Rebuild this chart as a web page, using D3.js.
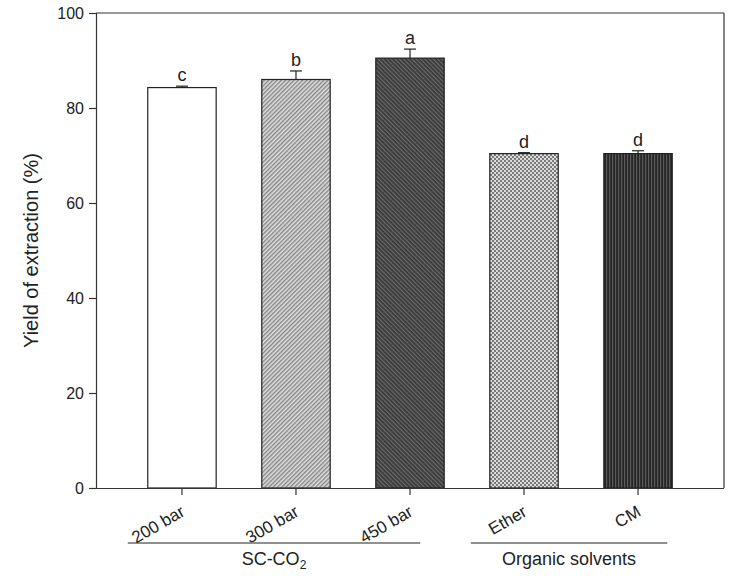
<!DOCTYPE html>
<html><head><meta charset="utf-8">
<script src="https://cdn.jsdelivr.net/npm/d3@7"></script>
<style>body{margin:0;background:#fff}svg{display:block}text{font-family:Arial,"Liberation Sans",sans-serif;fill:#222}</style>
</head><body>
<script>
const categories = ["200 bar","300 bar","450 bar","Ether","CM"];
const values = [84.3, 86.0, 90.5, 70.4, 70.4];
const errors = [0.3, 1.8, 1.9, 0.2, 0.6];
const letters = ["c","b","a","d","d"];
const yTicks = [0,20,40,60,80,100];
const groupNames = ["SC-CO", "Organic solvents"];
const groupFirst = [0, 3];
const groupLast = [2, 4];

const W = 742, H = 579;
const m = {l:96, r:18, t:13, b:91};
const svg = d3.select("body").append("svg").attr("width",W).attr("height",H);
const defs = svg.append("defs");

function stripePat(id, bg, fg, angle, size, lw){
  const p = defs.append("pattern").attr("id",id).attr("patternUnits","userSpaceOnUse")
    .attr("width",size).attr("height",size).attr("patternTransform",`rotate(${angle})`);
  p.append("rect").attr("width",size).attr("height",size).attr("fill",bg);
  p.append("rect").attr("width",lw).attr("height",size).attr("fill",fg);
}
stripePat("p300","#e0e0e0","#858585",45,3,1.4);
stripePat("p450","#383838","#6c6c6c",-45,3,1.2);
stripePat("pCM","#262626","#5a5a5a",0,3,1.2);
{
  const p = defs.append("pattern").attr("id","pEther").attr("patternUnits","userSpaceOnUse")
    .attr("width",4).attr("height",4);
  p.append("rect").attr("width",4).attr("height",4).attr("fill","#dcdcdc");
  p.append("rect").attr("width",2).attr("height",2).attr("fill","#7a7a7a");
  p.append("rect").attr("x",2).attr("y",2).attr("width",2).attr("height",2).attr("fill","#7a7a7a");
}
const fills = ["#ffffff","url(#p300)","url(#p450)","url(#pEther)","url(#pCM)"];

const x = d3.scaleBand().domain(categories).range([m.l, W-m.r]).paddingInner(0.4).paddingOuter(0.454);
const y = d3.scaleLinear().domain([0,100]).range([H-m.b, m.t]);
const stroke = "#333";

svg.selectAll("rect.bar").data(categories).join("rect")
  .attr("x", d=>x(d)).attr("width", x.bandwidth())
  .attr("y", (d,i)=>y(values[i])).attr("height", (d,i)=>y(0)-y(values[i]))
  .attr("fill",(d,i)=>fills[i]).attr("stroke","#222").attr("stroke-width",1.2);

const cx = d => x(d)+x.bandwidth()/2;
categories.forEach((d,i)=>{
  const top = y(values[i]+errors[i]);
  svg.append("line").attr("x1",cx(d)).attr("x2",cx(d)).attr("y1",y(values[i])).attr("y2",top).attr("stroke","#222").attr("stroke-width",1.2);
  svg.append("line").attr("x1",cx(d)-6).attr("x2",cx(d)+6).attr("y1",top).attr("y2",top).attr("stroke","#222").attr("stroke-width",1.2);
  svg.append("text").attr("x",cx(d)).attr("y",top-5).attr("text-anchor","middle").attr("font-size",18).text(letters[i]);
});

svg.append("line").attr("x1",m.l).attr("x2",W-m.r).attr("y1",m.t).attr("y2",m.t).attr("stroke",stroke).attr("stroke-width",1.2);
svg.append("line").attr("x1",W-m.r).attr("x2",W-m.r).attr("y1",m.t).attr("y2",H-m.b).attr("stroke",stroke).attr("stroke-width",1.2);

const ya = svg.append("g").attr("transform",`translate(${m.l},0)`)
  .call(d3.axisLeft(y).tickValues(yTicks).tickSize(7).tickPadding(5));
ya.select(".domain").attr("stroke",stroke).attr("stroke-width",1.2);
ya.selectAll(".tick line").attr("stroke",stroke).attr("stroke-width",1.2);
ya.selectAll(".tick text").attr("font-size",16).attr("fill","#222").attr("font-family",'Arial,"Liberation Sans",sans-serif');

const xa = svg.append("g").attr("transform",`translate(0,${H-m.b})`)
  .call(d3.axisBottom(x).tickSize(7).tickSizeOuter(0).tickFormat(""));
xa.select(".domain").attr("stroke",stroke).attr("stroke-width",1.2).attr("d",`M${m.l},0.5H${W-m.r}`);
xa.selectAll(".tick line").attr("stroke",stroke).attr("stroke-width",1.2);
categories.forEach(d=>{
  svg.append("text").attr("text-anchor","end").attr("font-size",17)
    .attr("transform",`translate(${cx(d)+4},${H-m.b+27}) rotate(-30)`).text(d);
});

const gPad = [[-20,-24],[-19,-5]];
const lineY = 543;
groupNames.forEach((g,k)=>{
  const x1 = x(categories[groupFirst[k]]) + gPad[k][0];
  const x2 = x(categories[groupLast[k]]) + x.bandwidth() + gPad[k][1];
  svg.append("line").attr("x1",x1).attr("x2",x2).attr("y1",lineY).attr("y2",lineY).attr("stroke","#222").attr("stroke-width",1.2);
  const t = svg.append("text").attr("x",(x1+x2)/2).attr("y",lineY+22).attr("text-anchor","middle").attr("font-size",18);
  t.append("tspan").text(g);
  if(k===0) t.append("tspan").attr("font-size",12).attr("dy",4).text("2");
});

svg.append("text").attr("transform",`translate(38,${(m.t+H-m.b)/2}) rotate(-90)`)
  .attr("text-anchor","middle").attr("font-size",20).text("Yield of extraction (%)");
</script>
</body></html>
